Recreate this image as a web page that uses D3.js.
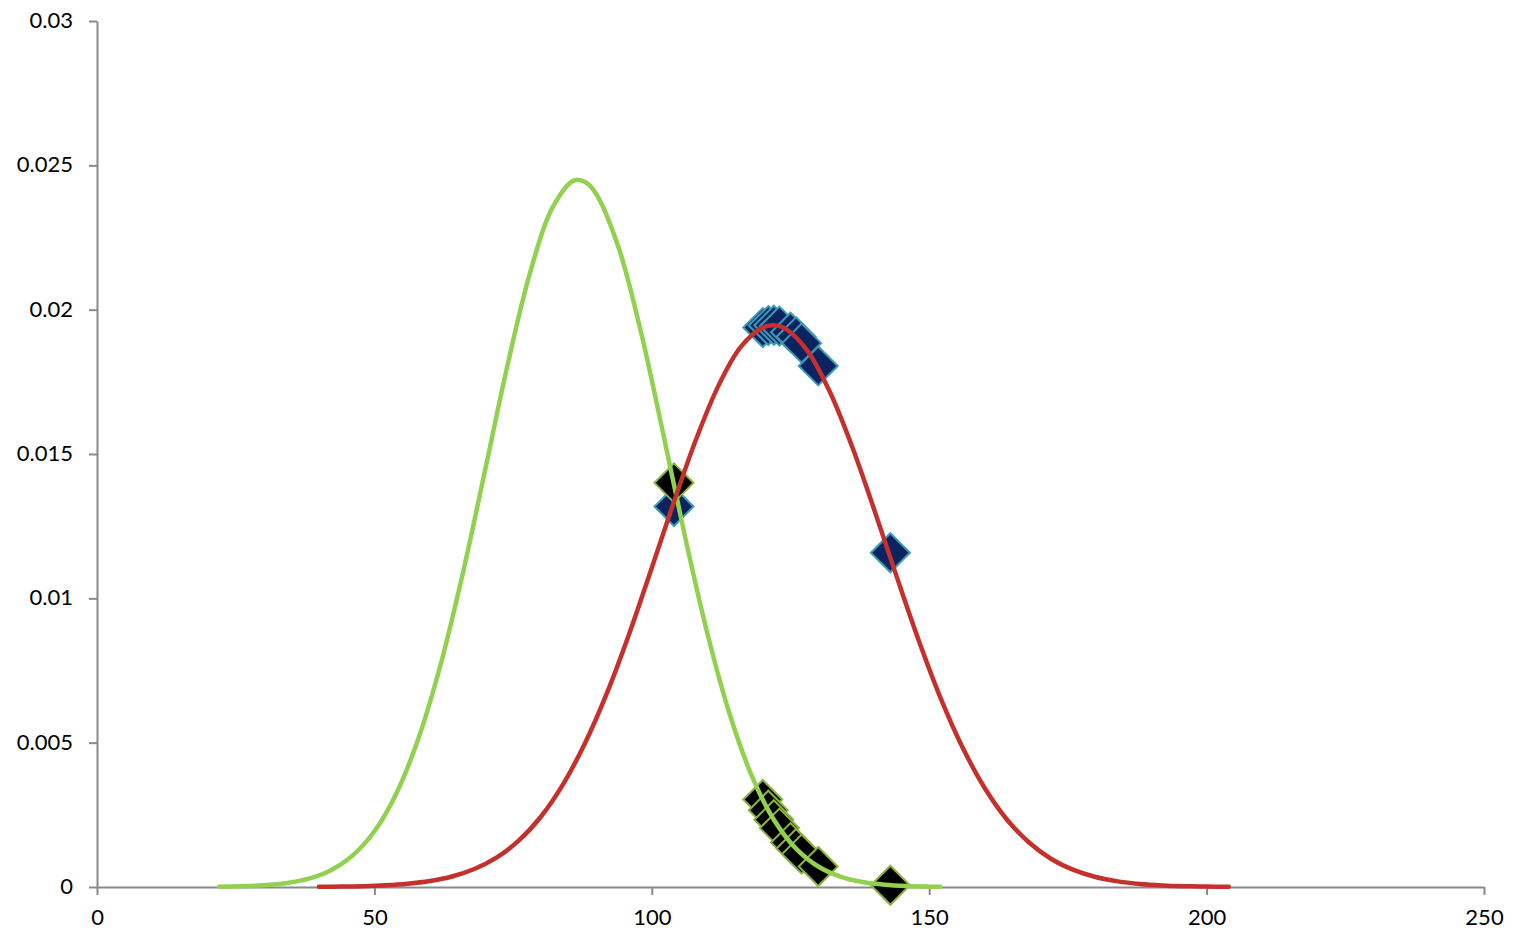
<!DOCTYPE html>
<html><head><meta charset="utf-8">
<script src="https://cdn.jsdelivr.net/npm/d3@7"></script>
<style>body{margin:0;background:#fff}svg{display:block}text{font-family:Lato,"Open Sans",sans-serif;fill:#000}</style>
</head><body><svg id="c" width="1524" height="935"></svg>
<script>
// green curve (x, density)
const greenX = [22,26,30,34,38,42,46,50,54,58,62,66,70,74,78,82,86,88,90,94,98,102,106,110,114,118,122,126,130,134,138,142,146,150,152];
const greenY = [0.0000091,0.0000235,0.0000569,0.000130,0.000279,0.000565,0.001077,0.00193,0.00326,0.00518,0.00775,0.01092,0.01448,0.01808,0.02124,0.02350,0.02448,0.02442,0.02400,0.02216,0.01926,0.01575,0.01213,0.00880,0.00601,0.00386,0.00233,0.00133,0.00071,0.000360,0.000171,0.0000765,0.0000322,0.0000128,0.000008];
// red curve
const redX = [40,44,48,52,56,60,64,68,72,76,80,84,88,92,96,100,104,108,112,116,120,122,124,128,132,136,140,144,148,152,156,160,164,168,172,176,180,184,188,192,196,200,204];
const redY = [0.0000068,0.0000145,0.0000298,0.0000591,0.000113,0.000207,0.000365,0.000622,0.001018,0.001604,0.002434,0.003556,0.00500,0.00676,0.00881,0.01106,0.01335,0.01552,0.01736,0.01870,0.01938,0.01946,0.01935,0.01859,0.01719,0.01531,0.01312,0.01083,0.00860,0.00657,0.00484,0.00343,0.00234,0.00154,0.000970,0.000591,0.000346,0.000195,0.000106,0.0000553,0.0000278,0.0000134,0.0000063];
// scatter points
const pointX = [104,120,121,122,123,125,126,127,130,143];
const blueY = [0.01318,0.01938,0.01945,0.01946,0.01943,0.01922,0.01906,0.01884,0.01805,0.01158];
const blackY = [0.01400,0.00303,0.00266,0.00233,0.00204,0.00154,0.00133,0.00114,0.00071,0.00006];
const xTicks = [0,50,100,150,200,250];
const yTicks = [0,0.005,0.01,0.015,0.02,0.025,0.03];

const svg = d3.select("#c");
const x = d3.scaleLinear().domain([0,250]).range([97,1484]);
const y = d3.scaleLinear().domain([0,0.03]).range([887,21]);

const xa = svg.append("g").attr("transform","translate(0,887)")
  .call(d3.axisBottom(x).tickValues(xTicks).tickSize(8).tickSizeOuter(0).tickPadding(13).tickFormat(d3.format("d")));
const ya = svg.append("g").attr("transform","translate(97,0)")
  .call(d3.axisLeft(y).tickValues(yTicks).tickSize(8).tickSizeOuter(0).tickPadding(16).tickFormat(d=>d===0?"0":String(+d.toFixed(3))));
[xa,ya].forEach(a=>{a.selectAll("path,line").attr("stroke","#898989").attr("stroke-width",2);a.selectAll("text").attr("font-size",22).attr("fill","#000").attr("font-family","Lato, sans-serif");});
ya.selectAll("text").attr("dy","0.3em");
xa.selectAll("text").attr("dy","0.75em");

const diamond = (cx,cy,r)=>`M${cx},${cy-r}L${cx+r},${cy}L${cx},${cy+r}L${cx-r},${cy}Z`;
const blue = pointX.map((d,i)=>({x:d,y:blueY[i]}));
const black = pointX.map((d,i)=>({x:d,y:blackY[i]}));
svg.append("g").selectAll("path").data(blue).join("path")
  .attr("d",d=>diamond(x(d.x),y(d.y),19.5)).attr("fill","#0b2460").attr("stroke","#3b9bb5").attr("stroke-width",2);
svg.append("g").selectAll("path").data(black).join("path")
  .attr("d",d=>diamond(x(d.x),y(d.y),19.5)).attr("fill","#000").attr("stroke","#8ab43c").attr("stroke-width",2);

const line = d3.line().x(d=>x(d[0])).y(d=>y(d[1])).curve(d3.curveCatmullRom);
svg.append("path").datum(greenX.map((d,i)=>[d,greenY[i]])).attr("d",line)
  .attr("fill","none").attr("stroke","#92d050").attr("stroke-width",4.5).attr("stroke-linecap","round");
svg.append("path").datum(redX.map((d,i)=>[d,redY[i]])).attr("d",line)
  .attr("fill","none").attr("stroke","#c4302c").attr("stroke-width",4.5).attr("stroke-linecap","round");
</script></body></html>
